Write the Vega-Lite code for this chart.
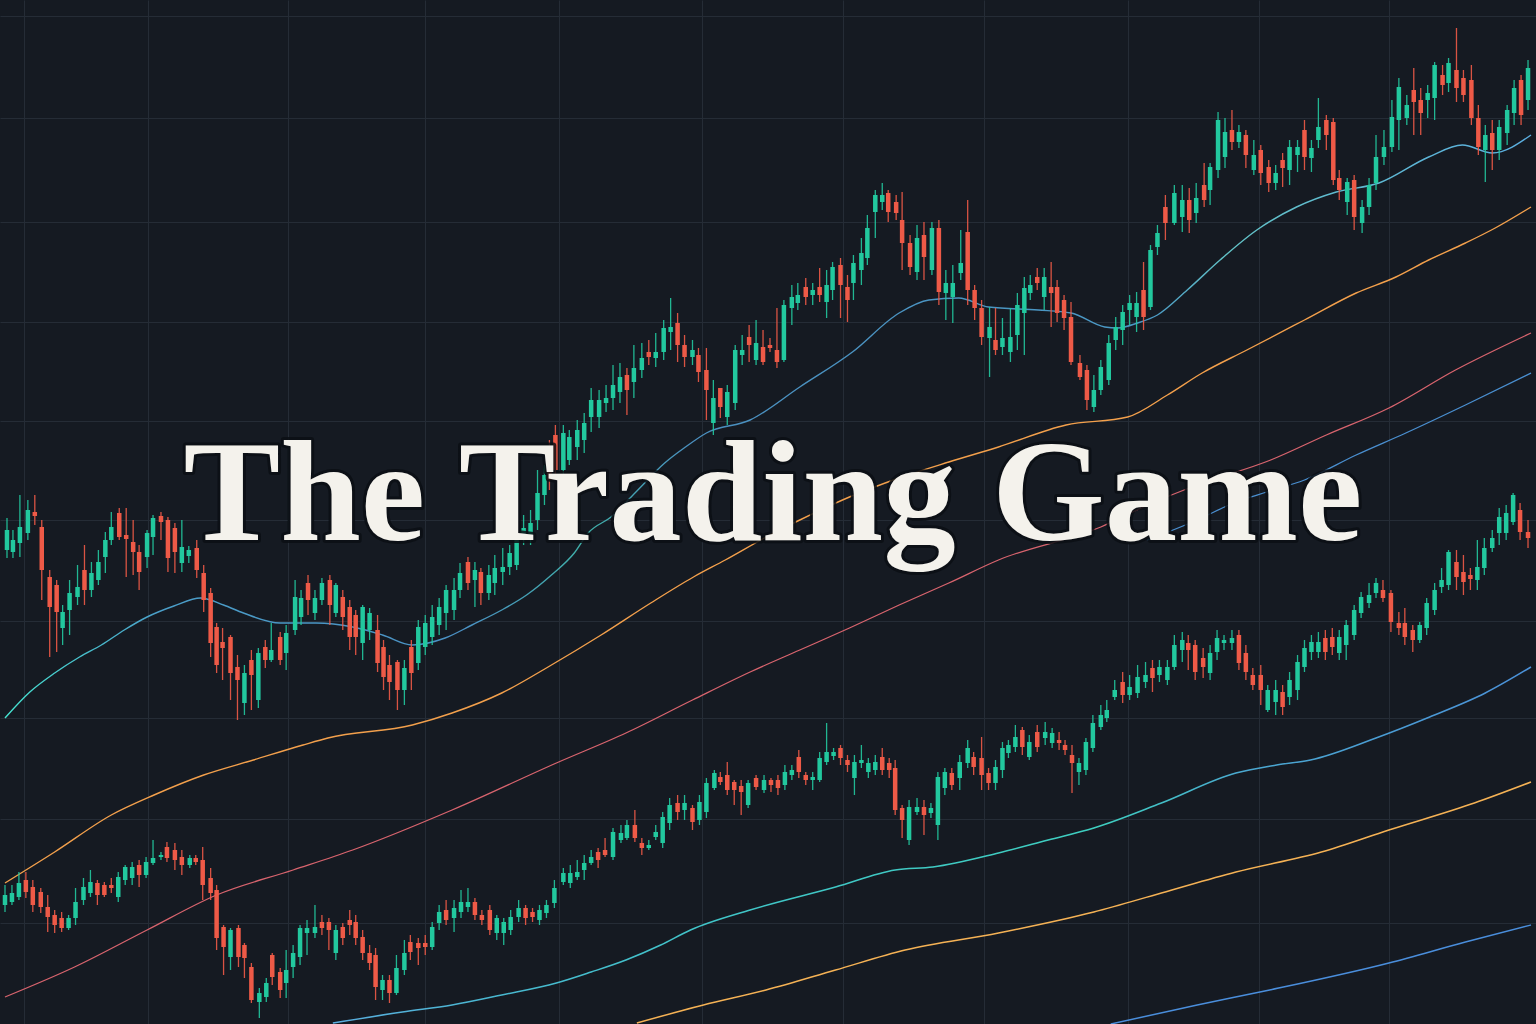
{
  "$schema": "https://vega.github.io/schema/vega-lite/v6.json",
  "description": "The Trading Game - candlestick backdrop with moving averages",
  "width": 1536,
  "height": 1024,
  "padding": 0,
  "autosize": {"type": "none"},
  "background": "#151a22",
  "config": {
    "view": {"stroke": null},
    "axis": {"labels": false, "ticks": false, "domain": false, "title": null, "gridColor": "#252c36", "gridWidth": 1}
  },
  "datasets": {
    "candles": [
      {"x":2,"o":550,"c":530,"h":518,"l":558},{"x":8,"o":552,"c":540,"h":530,"l":558},{"x":15,"o":543,"c":527,"h":495,"l":557},{"x":23,"o":533,"c":510,"h":500,"l":540},{"x":30,"o":512,"c":516,"h":495,"l":525},
      {"x":37,"o":527,"c":570,"h":520,"l":600},{"x":45,"o":577,"c":607,"h":570,"l":657},{"x":52,"o":585,"c":612,"h":580,"l":652},{"x":58,"o":628,"c":612,"h":605,"l":645},{"x":65,"o":610,"c":593,"h":580,"l":635},
      {"x":73,"o":597,"c":587,"h":565,"l":605},{"x":80,"o":570,"c":590,"h":545,"l":605},{"x":87,"o":590,"c":573,"h":562,"l":597},{"x":94,"o":580,"c":562,"h":550,"l":585},{"x":101,"o":557,"c":540,"h":532,"l":573},
      {"x":107,"o":540,"c":527,"h":512,"l":545},{"x":115,"o":513,"c":537,"h":508,"l":540},{"x":122,"o":535,"c":539,"h":508,"l":577},{"x":129,"o":542,"c":552,"h":520,"l":575},{"x":135,"o":552,"c":572,"h":545,"l":590},
      {"x":143,"o":557,"c":533,"h":530,"l":568},{"x":149,"o":537,"c":518,"h":515,"l":555},{"x":157,"o":516,"c":522,"h":512,"l":540},{"x":164,"o":520,"c":558,"h":517,"l":572},{"x":171,"o":528,"c":552,"h":523,"l":573},
      {"x":178,"o":563,"c":547,"h":520,"l":572},{"x":185,"o":556,"c":550,"h":546,"l":563},{"x":193,"o":548,"c":570,"h":540,"l":578},{"x":200,"o":573,"c":600,"h":565,"l":612},{"x":207,"o":593,"c":643,"h":588,"l":657},
      {"x":213,"o":627,"c":665,"h":623,"l":673},{"x":219,"o":642,"c":648,"h":628,"l":680},{"x":227,"o":637,"c":673,"h":635,"l":700},{"x":234,"o":667,"c":680,"h":655,"l":720},{"x":241,"o":703,"c":673,"h":665,"l":715},
      {"x":248,"o":660,"c":675,"h":650,"l":710},{"x":255,"o":700,"c":653,"h":648,"l":708},{"x":262,"o":647,"c":660,"h":640,"l":668},{"x":268,"o":660,"c":650,"h":623,"l":662},{"x":277,"o":637,"c":660,"h":632,"l":665},
      {"x":283,"o":653,"c":633,"h":625,"l":670},{"x":292,"o":630,"c":597,"h":580,"l":635},{"x":298,"o":617,"c":598,"h":590,"l":625},{"x":305,"o":583,"c":600,"h":575,"l":615},{"x":312,"o":613,"c":598,"h":590,"l":620},
      {"x":319,"o":600,"c":583,"h":578,"l":605},{"x":327,"o":580,"c":605,"h":575,"l":625},{"x":333,"o":613,"c":585,"h":583,"l":617},{"x":340,"o":597,"c":617,"h":590,"l":630},{"x":347,"o":607,"c":637,"h":600,"l":650},
      {"x":353,"o":615,"c":637,"h":610,"l":655},{"x":360,"o":643,"c":607,"h":605,"l":660},{"x":367,"o":630,"c":613,"h":608,"l":640},{"x":375,"o":630,"c":663,"h":615,"l":672},{"x":381,"o":647,"c":677,"h":640,"l":690},
      {"x":387,"o":665,"c":682,"h":655,"l":700},{"x":395,"o":662,"c":690,"h":660,"l":710},{"x":402,"o":690,"c":668,"h":660,"l":705},{"x":409,"o":647,"c":673,"h":640,"l":690},{"x":416,"o":663,"c":627,"h":620,"l":670},
      {"x":423,"o":647,"c":623,"h":615,"l":655},{"x":430,"o":637,"c":617,"h":605,"l":645},{"x":437,"o":625,"c":607,"h":598,"l":635},{"x":444,"o":613,"c":590,"h":585,"l":630},{"x":452,"o":610,"c":590,"h":578,"l":620},
      {"x":458,"o":590,"c":573,"h":563,"l":598},{"x":466,"o":562,"c":583,"h":557,"l":590},{"x":473,"o":580,"c":570,"h":562,"l":607},{"x":479,"o":572,"c":593,"h":568,"l":605},{"x":487,"o":593,"c":575,"h":565,"l":600},
      {"x":493,"o":583,"c":568,"h":555,"l":595},{"x":501,"o":572,"c":567,"h":548,"l":585},{"x":508,"o":567,"c":553,"h":545,"l":575},{"x":515,"o":565,"c":540,"h":530,"l":570},{"x":522,"o":537,"c":528,"h":515,"l":545},
      {"x":529,"o":540,"c":523,"h":510,"l":545},{"x":536,"o":520,"c":493,"h":470,"l":530},{"x":543,"o":495,"c":475,"h":465,"l":505},{"x":548,"o":470,"c":480,"h":440,"l":490},{"x":554,"o":435,"c":470,"h":425,"l":475},
      {"x":562,"o":470,"c":433,"h":425,"l":478},{"x":568,"o":460,"c":437,"h":430,"l":465},{"x":576,"o":447,"c":430,"h":420,"l":460},{"x":583,"o":440,"c":423,"h":413,"l":453},{"x":590,"o":417,"c":400,"h":388,"l":432},
      {"x":598,"o":417,"c":400,"h":390,"l":428},{"x":605,"o":403,"c":398,"h":385,"l":412},{"x":612,"o":398,"c":385,"h":365,"l":410},{"x":619,"o":392,"c":377,"h":363,"l":403},{"x":626,"o":375,"c":390,"h":368,"l":415},
      {"x":633,"o":382,"c":368,"h":345,"l":398},{"x":641,"o":370,"c":358,"h":343,"l":378},{"x":648,"o":352,"c":357,"h":340,"l":365},{"x":655,"o":358,"c":352,"h":333,"l":367},{"x":663,"o":352,"c":328,"h":320,"l":360},
      {"x":670,"o":332,"c":327,"h":298,"l":350},{"x":677,"o":323,"c":345,"h":313,"l":362},{"x":684,"o":345,"c":357,"h":335,"l":367},{"x":692,"o":357,"c":350,"h":340,"l":365},{"x":698,"o":355,"c":372,"h":348,"l":382},
      {"x":706,"o":370,"c":390,"h":348,"l":420},{"x":713,"o":423,"c":398,"h":380,"l":435},{"x":720,"o":388,"c":407,"h":388,"l":418},{"x":727,"o":417,"c":392,"h":385,"l":425},{"x":735,"o":403,"c":350,"h":345,"l":410},
      {"x":742,"o":355,"c":350,"h":335,"l":365},{"x":749,"o":337,"c":345,"h":325,"l":362},{"x":756,"o":360,"c":343,"h":320,"l":365},{"x":763,"o":347,"c":362,"h":330,"l":365},{"x":770,"o":345,"c":348,"h":338,"l":352},
      {"x":777,"o":350,"c":362,"h":308,"l":368},{"x":784,"o":360,"c":305,"h":300,"l":362},{"x":792,"o":308,"c":297,"h":285,"l":325},{"x":798,"o":303,"c":295,"h":283,"l":310},{"x":806,"o":287,"c":297,"h":278,"l":305},
      {"x":813,"o":295,"c":290,"h":283,"l":305},{"x":820,"o":287,"c":295,"h":268,"l":302},{"x":827,"o":302,"c":285,"h":270,"l":318},{"x":833,"o":290,"c":267,"h":262,"l":300},{"x":841,"o":265,"c":285,"h":258,"l":318},
      {"x":848,"o":287,"c":300,"h":275,"l":322},{"x":854,"o":283,"c":263,"h":255,"l":300},{"x":862,"o":270,"c":253,"h":238,"l":285},{"x":868,"o":258,"c":228,"h":215,"l":265},{"x":876,"o":212,"c":195,"h":190,"l":238},
      {"x":883,"o":202,"c":195,"h":183,"l":210},{"x":889,"o":193,"c":212,"h":190,"l":222},{"x":897,"o":202,"c":213,"h":195,"l":220},{"x":903,"o":220,"c":243,"h":192,"l":270},{"x":911,"o":243,"c":267,"h":235,"l":275},
      {"x":918,"o":272,"c":238,"h":225,"l":280},{"x":925,"o":235,"c":257,"h":222,"l":280},{"x":933,"o":270,"c":228,"h":222,"l":275},{"x":940,"o":228,"c":292,"h":220,"l":305},{"x":947,"o":293,"c":283,"h":270,"l":320},
      {"x":954,"o":297,"c":283,"h":265,"l":323},{"x":962,"o":273,"c":263,"h":230,"l":280},{"x":969,"o":232,"c":290,"h":200,"l":305},{"x":976,"o":290,"c":308,"h":285,"l":320},{"x":983,"o":308,"c":337,"h":300,"l":345},
      {"x":991,"o":338,"c":327,"h":307,"l":377},{"x":997,"o":340,"c":350,"h":308,"l":355},{"x":1004,"o":347,"c":338,"h":318,"l":355},{"x":1012,"o":352,"c":337,"h":308,"l":362},{"x":1019,"o":335,"c":305,"h":293,"l":350},
      {"x":1026,"o":313,"c":288,"h":277,"l":355},{"x":1032,"o":293,"c":285,"h":275,"l":300},{"x":1039,"o":277,"c":283,"h":268,"l":290},{"x":1046,"o":297,"c":277,"h":268,"l":310},{"x":1053,"o":287,"c":293,"h":262,"l":327},
      {"x":1059,"o":287,"c":313,"h":280,"l":322},{"x":1066,"o":300,"c":318,"h":295,"l":330},{"x":1073,"o":317,"c":362,"h":302,"l":365},{"x":1082,"o":363,"c":377,"h":355,"l":380},{"x":1089,"o":370,"c":400,"h":365,"l":410},
      {"x":1096,"o":407,"c":390,"h":375,"l":412},{"x":1103,"o":390,"c":367,"h":360,"l":395},{"x":1111,"o":380,"c":343,"h":335,"l":385},{"x":1118,"o":340,"c":327,"h":317,"l":350},{"x":1125,"o":330,"c":312,"h":305,"l":345},
      {"x":1132,"o":310,"c":303,"h":295,"l":325},{"x":1139,"o":317,"c":303,"h":292,"l":332},{"x":1146,"o":290,"c":317,"h":262,"l":330},{"x":1153,"o":307,"c":250,"h":245,"l":310},{"x":1160,"o":247,"c":233,"h":225,"l":255},
      {"x":1168,"o":207,"c":223,"h":195,"l":240},{"x":1177,"o":223,"c":193,"h":185,"l":225},{"x":1185,"o":217,"c":200,"h":185,"l":232},{"x":1192,"o":200,"c":220,"h":188,"l":233},{"x":1199,"o":213,"c":198,"h":183,"l":223},
      {"x":1207,"o":185,"c":200,"h":163,"l":207},{"x":1213,"o":190,"c":167,"h":163,"l":205},{"x":1221,"o":170,"c":120,"h":112,"l":178},{"x":1228,"o":157,"c":132,"h":118,"l":168},{"x":1235,"o":130,"c":142,"h":110,"l":150},
      {"x":1242,"o":142,"c":132,"h":125,"l":148},{"x":1249,"o":135,"c":155,"h":130,"l":168},{"x":1257,"o":170,"c":155,"h":140,"l":175},{"x":1264,"o":150,"c":173,"h":145,"l":185},{"x":1272,"o":167,"c":183,"h":160,"l":192},
      {"x":1279,"o":183,"c":173,"h":165,"l":190},{"x":1286,"o":160,"c":168,"h":153,"l":187},{"x":1293,"o":170,"c":147,"h":140,"l":185},{"x":1301,"o":155,"c":147,"h":140,"l":172},{"x":1308,"o":130,"c":157,"h":120,"l":170},
      {"x":1315,"o":158,"c":148,"h":140,"l":172},{"x":1322,"o":140,"c":127,"h":98,"l":148},{"x":1330,"o":120,"c":135,"h":115,"l":150},{"x":1337,"o":122,"c":180,"h":118,"l":185},{"x":1343,"o":178,"c":190,"h":170,"l":200},
      {"x":1351,"o":202,"c":182,"h":178,"l":215},{"x":1358,"o":180,"c":217,"h":175,"l":230},{"x":1366,"o":223,"c":207,"h":200,"l":233},{"x":1373,"o":207,"c":185,"h":178,"l":215},{"x":1380,"o":183,"c":157,"h":135,"l":190},
      {"x":1388,"o":157,"c":147,"h":130,"l":165},{"x":1396,"o":147,"c":117,"h":100,"l":152},{"x":1403,"o":120,"c":87,"h":78,"l":150},{"x":1411,"o":118,"c":105,"h":95,"l":125},{"x":1418,"o":90,"c":102,"h":68,"l":135},
      {"x":1425,"o":100,"c":113,"h":88,"l":135},{"x":1432,"o":100,"c":93,"h":85,"l":118},{"x":1439,"o":98,"c":65,"h":62,"l":120},{"x":1447,"o":75,"c":85,"h":65,"l":95},{"x":1453,"o":83,"c":63,"h":58,"l":92},
      {"x":1461,"o":70,"c":88,"h":28,"l":102},{"x":1468,"o":78,"c":95,"h":70,"l":102},{"x":1476,"o":80,"c":118,"h":65,"l":125},{"x":1483,"o":118,"c":147,"h":105,"l":155},{"x":1490,"o":150,"c":135,"h":125,"l":182},
      {"x":1497,"o":133,"c":150,"h":120,"l":170},{"x":1504,"o":150,"c":127,"h":120,"l":160},{"x":1512,"o":133,"c":110,"h":105,"l":145},{"x":1519,"o":113,"c":88,"h":80,"l":125},{"x":1526,"o":80,"c":115,"h":75,"l":125},
      {"x":1533,"o":100,"c":68,"h":60,"l":110},

      {"x":0,"o":905,"c":895,"h":885,"l":912},{"x":7,"o":902,"c":893,"h":885,"l":905},{"x":14,"o":897,"c":883,"h":872,"l":900},{"x":21,"o":880,"c":892,"h":872,"l":898},{"x":28,"o":887,"c":905,"h":880,"l":912},
      {"x":36,"o":892,"c":907,"h":888,"l":913},{"x":43,"o":907,"c":917,"h":895,"l":932},{"x":50,"o":915,"c":925,"h":910,"l":933},{"x":57,"o":918,"c":928,"h":912,"l":932},{"x":64,"o":928,"c":918,"h":915,"l":930},
      {"x":71,"o":918,"c":902,"h":888,"l":925},{"x":79,"o":900,"c":887,"h":878,"l":905},{"x":86,"o":893,"c":882,"h":870,"l":897},{"x":93,"o":883,"c":895,"h":880,"l":905},{"x":100,"o":885,"c":895,"h":882,"l":897},
      {"x":107,"o":885,"c":888,"h":878,"l":893},{"x":114,"o":897,"c":877,"h":872,"l":902},{"x":121,"o":880,"c":867,"h":865,"l":885},{"x":128,"o":878,"c":867,"h":862,"l":885},{"x":135,"o":865,"c":875,"h":860,"l":887},
      {"x":142,"o":875,"c":862,"h":857,"l":878},{"x":149,"o":863,"c":858,"h":840,"l":865},{"x":157,"o":857,"c":855,"h":852,"l":860},{"x":163,"o":847,"c":858,"h":842,"l":862},{"x":171,"o":850,"c":860,"h":843,"l":870},
      {"x":178,"o":857,"c":865,"h":850,"l":875},{"x":186,"o":865,"c":858,"h":855,"l":868},{"x":192,"o":858,"c":862,"h":855,"l":865},{"x":199,"o":860,"c":885,"h":847,"l":900},{"x":207,"o":878,"c":893,"h":868,"l":900},
      {"x":213,"o":890,"c":938,"h":885,"l":950},{"x":220,"o":927,"c":947,"h":925,"l":975},{"x":227,"o":957,"c":930,"h":928,"l":970},{"x":235,"o":928,"c":957,"h":925,"l":967},{"x":241,"o":945,"c":958,"h":943,"l":978},
      {"x":248,"o":967,"c":1000,"h":963,"l":1003},{"x":256,"o":1002,"c":993,"h":988,"l":1018},{"x":263,"o":997,"c":983,"h":978,"l":1002},{"x":269,"o":955,"c":977,"h":953,"l":985},{"x":277,"o":972,"c":990,"h":968,"l":998},
      {"x":283,"o":983,"c":970,"h":950,"l":998},{"x":290,"o":967,"c":953,"h":945,"l":978},{"x":297,"o":957,"c":928,"h":925,"l":965},{"x":304,"o":933,"c":928,"h":920,"l":955},{"x":312,"o":933,"c":927,"h":905,"l":938},
      {"x":319,"o":922,"c":928,"h":915,"l":935},{"x":326,"o":922,"c":930,"h":918,"l":950},{"x":333,"o":953,"c":930,"h":925,"l":960},{"x":340,"o":927,"c":938,"h":923,"l":945},{"x":347,"o":920,"c":925,"h":910,"l":935},
      {"x":353,"o":922,"c":938,"h":915,"l":945},{"x":360,"o":937,"c":953,"h":930,"l":960},{"x":367,"o":953,"c":963,"h":945,"l":970},{"x":373,"o":955,"c":987,"h":948,"l":1000},{"x":380,"o":990,"c":980,"h":975,"l":1000},
      {"x":387,"o":980,"c":993,"h":975,"l":1003},{"x":394,"o":993,"c":968,"h":955,"l":995},{"x":402,"o":970,"c":953,"h":940,"l":975},{"x":408,"o":942,"c":952,"h":935,"l":960},{"x":416,"o":943,"c":948,"h":938,"l":965},
      {"x":423,"o":943,"c":947,"h":935,"l":955},{"x":430,"o":947,"c":927,"h":922,"l":950},{"x":437,"o":923,"c":912,"h":905,"l":930},{"x":444,"o":910,"c":920,"h":900,"l":925},{"x":452,"o":918,"c":908,"h":900,"l":932},
      {"x":459,"o":912,"c":902,"h":890,"l":918},{"x":466,"o":907,"c":902,"h":888,"l":912},{"x":473,"o":902,"c":915,"h":898,"l":920},{"x":480,"o":915,"c":920,"h":910,"l":925},{"x":488,"o":910,"c":930,"h":905,"l":935},
      {"x":495,"o":933,"c":918,"h":915,"l":940},{"x":502,"o":933,"c":922,"h":918,"l":945},{"x":509,"o":930,"c":917,"h":910,"l":935},{"x":517,"o":917,"c":908,"h":900,"l":922},{"x":524,"o":908,"c":918,"h":905,"l":925},
      {"x":531,"o":912,"c":917,"h":908,"l":922},{"x":538,"o":920,"c":910,"h":905,"l":925},{"x":545,"o":913,"c":905,"h":900,"l":918},{"x":553,"o":903,"c":888,"h":880,"l":908},{"x":562,"o":882,"c":873,"h":868,"l":885},
      {"x":569,"o":883,"c":873,"h":865,"l":888},{"x":576,"o":877,"c":872,"h":860,"l":880},{"x":583,"o":870,"c":863,"h":855,"l":880},{"x":590,"o":863,"c":857,"h":850,"l":865},{"x":597,"o":852,"c":860,"h":848,"l":868},
      {"x":604,"o":850,"c":855,"h":838,"l":857},{"x":612,"o":857,"c":832,"h":828,"l":860},{"x":620,"o":840,"c":833,"h":825,"l":843},{"x":626,"o":838,"c":825,"h":820,"l":840},{"x":634,"o":825,"c":838,"h":810,"l":842},
      {"x":641,"o":843,"c":848,"h":838,"l":855},{"x":648,"o":848,"c":845,"h":840,"l":850},{"x":655,"o":837,"c":832,"h":825,"l":840},{"x":662,"o":843,"c":817,"h":812,"l":848},{"x":669,"o":823,"c":805,"h":798,"l":830},
      {"x":677,"o":803,"c":812,"h":795,"l":820},{"x":684,"o":810,"c":803,"h":795,"l":820},{"x":692,"o":808,"c":822,"h":805,"l":830},{"x":699,"o":820,"c":802,"h":795,"l":825},{"x":706,"o":812,"c":783,"h":778,"l":818},
      {"x":714,"o":788,"c":773,"h":770,"l":790},{"x":720,"o":777,"c":782,"h":772,"l":785},{"x":727,"o":775,"c":790,"h":762,"l":795},{"x":734,"o":782,"c":790,"h":780,"l":805},{"x":741,"o":786,"c":792,"h":780,"l":815},
      {"x":748,"o":805,"c":783,"h":780,"l":808},{"x":756,"o":778,"c":787,"h":775,"l":790},{"x":764,"o":790,"c":780,"h":775,"l":793},{"x":771,"o":780,"c":785,"h":778,"l":792},{"x":778,"o":780,"c":788,"h":775,"l":795},
      {"x":785,"o":785,"c":772,"h":765,"l":790},{"x":792,"o":775,"c":770,"h":765,"l":780},{"x":799,"o":757,"c":772,"h":750,"l":778},{"x":806,"o":775,"c":780,"h":772,"l":785},{"x":813,"o":780,"c":777,"h":772,"l":790},
      {"x":820,"o":780,"c":758,"h":752,"l":782},{"x":827,"o":762,"c":752,"h":723,"l":765},{"x":834,"o":756,"c":752,"h":748,"l":760},{"x":841,"o":748,"c":758,"h":745,"l":765},{"x":848,"o":760,"c":765,"h":755,"l":772},
      {"x":855,"o":778,"c":762,"h":755,"l":795},{"x":862,"o":763,"c":760,"h":745,"l":768},{"x":869,"o":772,"c":763,"h":758,"l":778},{"x":876,"o":770,"c":762,"h":755,"l":775},{"x":883,"o":757,"c":770,"h":748,"l":775},
      {"x":890,"o":763,"c":770,"h":758,"l":778},{"x":896,"o":768,"c":810,"h":760,"l":815},{"x":903,"o":808,"c":820,"h":805,"l":838},{"x":910,"o":840,"c":807,"h":800,"l":845},{"x":918,"o":812,"c":807,"h":798,"l":815},
      {"x":925,"o":807,"c":815,"h":800,"l":835},{"x":932,"o":813,"c":808,"h":803,"l":818},{"x":939,"o":825,"c":777,"h":772,"l":840},{"x":946,"o":788,"c":772,"h":768,"l":795},{"x":953,"o":773,"c":785,"h":768,"l":790},
      {"x":961,"o":778,"c":762,"h":755,"l":790},{"x":969,"o":763,"c":748,"h":740,"l":768},{"x":975,"o":757,"c":767,"h":752,"l":775},{"x":983,"o":758,"c":775,"h":737,"l":790},{"x":990,"o":773,"c":783,"h":768,"l":790},
      {"x":997,"o":783,"c":767,"h":760,"l":790},{"x":1004,"o":770,"c":748,"h":742,"l":778},{"x":1010,"o":753,"c":745,"h":740,"l":758},{"x":1017,"o":747,"c":737,"h":725,"l":752},{"x":1024,"o":730,"c":747,"h":727,"l":755},
      {"x":1031,"o":757,"c":742,"h":735,"l":760},{"x":1039,"o":732,"c":747,"h":725,"l":752},{"x":1047,"o":738,"c":732,"h":722,"l":745},{"x":1054,"o":743,"c":733,"h":728,"l":748},{"x":1061,"o":740,"c":743,"h":732,"l":750},
      {"x":1067,"o":745,"c":750,"h":740,"l":755},{"x":1074,"o":755,"c":763,"h":745,"l":793},{"x":1081,"o":772,"c":763,"h":758,"l":785},{"x":1088,"o":770,"c":742,"h":738,"l":775},{"x":1095,"o":748,"c":723,"h":715,"l":752},
      {"x":1103,"o":727,"c":715,"h":705,"l":730},{"x":1109,"o":718,"c":710,"h":700,"l":722},{"x":1117,"o":697,"c":690,"h":680,"l":700},{"x":1125,"o":682,"c":695,"h":672,"l":703},{"x":1132,"o":695,"c":687,"h":675,"l":700},
      {"x":1140,"o":693,"c":677,"h":665,"l":698},{"x":1148,"o":682,"c":675,"h":662,"l":688},{"x":1155,"o":668,"c":678,"h":660,"l":692},{"x":1162,"o":675,"c":667,"h":660,"l":682},{"x":1170,"o":680,"c":667,"h":660,"l":685},
      {"x":1177,"o":667,"c":645,"h":635,"l":670},{"x":1185,"o":650,"c":640,"h":632,"l":662},{"x":1191,"o":643,"c":650,"h":635,"l":670},{"x":1198,"o":645,"c":672,"h":640,"l":680},{"x":1206,"o":658,"c":667,"h":648,"l":678},
      {"x":1213,"o":673,"c":653,"h":645,"l":680},{"x":1220,"o":652,"c":638,"h":630,"l":660},{"x":1227,"o":643,"c":640,"h":635,"l":650},{"x":1235,"o":643,"c":638,"h":630,"l":650},{"x":1242,"o":635,"c":663,"h":630,"l":670},
      {"x":1249,"o":653,"c":672,"h":645,"l":680},{"x":1256,"o":675,"c":685,"h":668,"l":690},{"x":1264,"o":675,"c":690,"h":665,"l":705},{"x":1271,"o":710,"c":690,"h":685,"l":712},{"x":1279,"o":702,"c":690,"h":680,"l":715},
      {"x":1286,"o":692,"c":707,"h":685,"l":715},{"x":1293,"o":697,"c":680,"h":672,"l":705},{"x":1301,"o":690,"c":662,"h":655,"l":700},{"x":1308,"o":667,"c":648,"h":640,"l":672},{"x":1315,"o":652,"c":642,"h":635,"l":660},
      {"x":1322,"o":652,"c":642,"h":632,"l":658},{"x":1329,"o":638,"c":652,"h":630,"l":660},{"x":1336,"o":637,"c":647,"h":628,"l":655},{"x":1343,"o":653,"c":637,"h":630,"l":660},{"x":1350,"o":645,"c":625,"h":620,"l":660},
      {"x":1358,"o":635,"c":610,"h":605,"l":640},{"x":1365,"o":613,"c":597,"h":592,"l":618},{"x":1373,"o":603,"c":595,"h":583,"l":608},{"x":1380,"o":593,"c":583,"h":578,"l":598},{"x":1387,"o":590,"c":598,"h":580,"l":602},
      {"x":1395,"o":593,"c":622,"h":590,"l":632},{"x":1403,"o":623,"c":628,"h":612,"l":635},{"x":1409,"o":623,"c":637,"h":608,"l":645},{"x":1417,"o":630,"c":640,"h":625,"l":652},{"x":1424,"o":640,"c":625,"h":622,"l":643},
      {"x":1431,"o":628,"c":603,"h":598,"l":635},{"x":1439,"o":610,"c":590,"h":583,"l":615},{"x":1446,"o":587,"c":580,"h":568,"l":593},{"x":1453,"o":585,"c":552,"h":550,"l":590},{"x":1461,"o":562,"c":577,"h":550,"l":590},
      {"x":1468,"o":572,"c":582,"h":555,"l":595},{"x":1475,"o":575,"c":579,"h":568,"l":590},{"x":1482,"o":580,"c":567,"h":540,"l":590},{"x":1489,"o":568,"c":548,"h":538,"l":575},{"x":1497,"o":548,"c":538,"h":530,"l":552},
      {"x":1504,"o":533,"c":517,"h":508,"l":545},{"x":1511,"o":533,"c":513,"h":505,"l":540},{"x":1518,"o":522,"c":495,"h":493,"l":525},{"x":1525,"o":510,"c":532,"h":503,"l":540},{"x":1533,"o":532,"c":538,"h":520,"l":548}
    ],
    "ma": [
      {"s":"ma1","x":0,"y":718},{"s":"ma1","x":25,"y":692},{"s":"ma1","x":50,"y":673},{"s":"ma1","x":75,"y":657},{"s":"ma1","x":97,"y":645},{"s":"ma1","x":120,"y":630},{"s":"ma1","x":143,"y":617},{"s":"ma1","x":170,"y":606},{"s":"ma1","x":197,"y":598},{"s":"ma1","x":220,"y":605},{"s":"ma1","x":240,"y":613},{"s":"ma1","x":277,"y":623},{"s":"ma1","x":313,"y":623},{"s":"ma1","x":350,"y":627},{"s":"ma1","x":380,"y":635},{"s":"ma1","x":410,"y":645},{"s":"ma1","x":443,"y":638},{"s":"ma1","x":470,"y":625},{"s":"ma1","x":500,"y":610},{"s":"ma1","x":525,"y":595},{"s":"ma1","x":550,"y":575},{"s":"ma1","x":573,"y":553},{"s":"ma1","x":587,"y":533},{"s":"ma1","x":610,"y":517},{"s":"ma1","x":637,"y":490},{"s":"ma1","x":664,"y":463},{"s":"ma1","x":685,"y":447},{"s":"ma1","x":706,"y":433},{"s":"ma1","x":750,"y":420},{"s":"ma1","x":800,"y":387},{"s":"ma1","x":853,"y":352},{"s":"ma1","x":900,"y":313},{"s":"ma1","x":930,"y":300},{"s":"ma1","x":960,"y":298},{"s":"ma1","x":990,"y":307},{"s":"ma1","x":1040,"y":310},{"s":"ma1","x":1073,"y":313},{"s":"ma1","x":1107,"y":327},{"s":"ma1","x":1120,"y":328},{"s":"ma1","x":1140,"y":323},{"s":"ma1","x":1160,"y":315},{"s":"ma1","x":1190,"y":290},{"s":"ma1","x":1223,"y":260},{"s":"ma1","x":1260,"y":230},{"s":"ma1","x":1300,"y":207},{"s":"ma1","x":1340,"y":192},{"s":"ma1","x":1383,"y":183},{"s":"ma1","x":1433,"y":157},{"s":"ma1","x":1467,"y":145},{"s":"ma1","x":1497,"y":153},{"s":"ma1","x":1536,"y":135},
      {"s":"ma2","x":0,"y":883},{"s":"ma2","x":50,"y":852},{"s":"ma2","x":107,"y":815},{"s":"ma2","x":150,"y":795},{"s":"ma2","x":200,"y":775},{"s":"ma2","x":250,"y":760},{"s":"ma2","x":300,"y":745},{"s":"ma2","x":325,"y":738},{"s":"ma2","x":410,"y":725},{"s":"ma2","x":450,"y":713},{"s":"ma2","x":500,"y":693},{"s":"ma2","x":550,"y":665},{"s":"ma2","x":600,"y":635},{"s":"ma2","x":650,"y":603},{"s":"ma2","x":693,"y":577},{"s":"ma2","x":725,"y":560},{"s":"ma2","x":770,"y":535},{"s":"ma2","x":800,"y":520},{"s":"ma2","x":850,"y":497},{"s":"ma2","x":900,"y":478},{"s":"ma2","x":950,"y":462},{"s":"ma2","x":1000,"y":447},{"s":"ma2","x":1068,"y":425},{"s":"ma2","x":1130,"y":417},{"s":"ma2","x":1170,"y":395},{"s":"ma2","x":1205,"y":373},{"s":"ma2","x":1250,"y":350},{"s":"ma2","x":1308,"y":320},{"s":"ma2","x":1360,"y":293},{"s":"ma2","x":1400,"y":277},{"s":"ma2","x":1433,"y":260},{"s":"ma2","x":1470,"y":243},{"s":"ma2","x":1500,"y":228},{"s":"ma2","x":1536,"y":207},
      {"s":"ma3","x":0,"y":997},{"s":"ma3","x":70,"y":967},{"s":"ma3","x":143,"y":930},{"s":"ma3","x":213,"y":895},{"s":"ma3","x":290,"y":870},{"s":"ma3","x":350,"y":850},{"s":"ma3","x":450,"y":810},{"s":"ma3","x":555,"y":763},{"s":"ma3","x":625,"y":733},{"s":"ma3","x":692,"y":700},{"s":"ma3","x":750,"y":672},{"s":"ma3","x":800,"y":650},{"s":"ma3","x":850,"y":628},{"s":"ma3","x":900,"y":605},{"s":"ma3","x":950,"y":583},{"s":"ma3","x":1000,"y":560},{"s":"ma3","x":1103,"y":527},{"s":"ma3","x":1150,"y":505},{"s":"ma3","x":1200,"y":485},{"s":"ma3","x":1274,"y":460},{"s":"ma3","x":1330,"y":435},{"s":"ma3","x":1393,"y":408},{"s":"ma3","x":1460,"y":370},{"s":"ma3","x":1536,"y":333},
      {"s":"ma4","x":1150,"y":540},{"s":"ma4","x":1200,"y":520},{"s":"ma4","x":1239,"y":502},{"s":"ma4","x":1270,"y":492},{"s":"ma4","x":1308,"y":480},{"s":"ma4","x":1360,"y":455},{"s":"ma4","x":1410,"y":433},{"s":"ma4","x":1470,"y":405},{"s":"ma4","x":1536,"y":373},
      {"s":"ma5","x":330,"y":1023},{"s":"ma5","x":400,"y":1012},{"s":"ma5","x":450,"y":1005},{"s":"ma5","x":500,"y":995},{"s":"ma5","x":555,"y":983},{"s":"ma5","x":590,"y":972},{"s":"ma5","x":625,"y":960},{"s":"ma5","x":660,"y":945},{"s":"ma5","x":690,"y":930},{"s":"ma5","x":750,"y":910},{"s":"ma5","x":836,"y":887},{"s":"ma5","x":896,"y":870},{"s":"ma5","x":934,"y":867},{"s":"ma5","x":1000,"y":853},{"s":"ma5","x":1050,"y":840},{"s":"ma5","x":1096,"y":828},{"s":"ma5","x":1164,"y":803},{"s":"ma5","x":1239,"y":773},{"s":"ma5","x":1280,"y":765},{"s":"ma5","x":1314,"y":760},{"s":"ma5","x":1380,"y":738},{"s":"ma5","x":1434,"y":717},{"s":"ma5","x":1490,"y":693},{"s":"ma5","x":1536,"y":667},
      {"s":"ma6","x":636,"y":1023},{"s":"ma6","x":703,"y":1005},{"s":"ma6","x":766,"y":990},{"s":"ma6","x":836,"y":970},{"s":"ma6","x":906,"y":950},{"s":"ma6","x":1000,"y":933},{"s":"ma6","x":1096,"y":912},{"s":"ma6","x":1164,"y":893},{"s":"ma6","x":1239,"y":872},{"s":"ma6","x":1325,"y":852},{"s":"ma6","x":1393,"y":830},{"s":"ma6","x":1479,"y":803},{"s":"ma6","x":1536,"y":782},
      {"s":"ma7","x":1113,"y":1024},{"s":"ma7","x":1200,"y":1005},{"s":"ma7","x":1273,"y":990},{"s":"ma7","x":1393,"y":963},{"s":"ma7","x":1470,"y":942},{"s":"ma7","x":1536,"y":925}
    ],
    "title": [{"label": "The Trading Game"}]
  },
  "encoding": {
    "x": {"type": "quantitative", "scale": {"domain": [0, 1536], "nice": false, "zero": false}, "axis": {"grid": true, "values": [19, 144, 285, 423, 558, 702, 843, 985, 1130, 1262, 1393]}},
    "y": {"type": "quantitative", "scale": {"domain": [1024, 0], "nice": false, "zero": false}, "axis": {"grid": true, "values": [16, 118, 222, 322, 421, 520, 621, 718, 819, 923]}}
  },
  "layer": [
    {
      "data": {"name": "ma"},
      "transform": [{"filter": "datum.s === 'ma1'"}],
      "mark": {"type": "line", "interpolate": "monotone", "strokeWidth": 1.4,
        "stroke": {"gradient": "linear", "stops": [
          {"offset": 0, "color": "#45e3d0"}, {"offset": 0.1, "color": "#4a9ec8"}, {"offset": 0.3, "color": "#4a8fc2"},
          {"offset": 0.38, "color": "#3fb0a8"}, {"offset": 0.45, "color": "#4a8fbf"}, {"offset": 0.75, "color": "#4a98c4"},
          {"offset": 0.8, "color": "#62c2c6"}, {"offset": 1, "color": "#5aaee0"}]}},
      "encoding": {"x": {"field": "x"}, "y": {"field": "y"}}
    },
    {
      "data": {"name": "ma"},
      "transform": [{"filter": "datum.s === 'ma2'"}],
      "mark": {"type": "line", "interpolate": "monotone", "strokeWidth": 1.4, "stroke": "#f3a04c"},
      "encoding": {"x": {"field": "x"}, "y": {"field": "y"}}
    },
    {
      "data": {"name": "ma"},
      "transform": [{"filter": "datum.s === 'ma3'"}],
      "mark": {"type": "line", "interpolate": "monotone", "strokeWidth": 1.3, "stroke": "#d8646e"},
      "encoding": {"x": {"field": "x"}, "y": {"field": "y"}}
    },
    {
      "data": {"name": "ma"},
      "transform": [{"filter": "datum.s === 'ma4'"}],
      "mark": {"type": "line", "interpolate": "monotone", "strokeWidth": 1.3, "stroke": "#4a8fd0"},
      "encoding": {"x": {"field": "x"}, "y": {"field": "y"}}
    },
    {
      "data": {"name": "ma"},
      "transform": [{"filter": "datum.s === 'ma5'"}],
      "mark": {"type": "line", "interpolate": "monotone", "strokeWidth": 1.5,
        "stroke": {"gradient": "linear", "stops": [
          {"offset": 0, "color": "#5aaee0"}, {"offset": 0.14, "color": "#48b8d0"}, {"offset": 0.31, "color": "#40c4c8"},
          {"offset": 0.64, "color": "#3ecfc0"}, {"offset": 0.76, "color": "#4aa8d0"}, {"offset": 1, "color": "#4a90d8"}]}},
      "encoding": {"x": {"field": "x"}, "y": {"field": "y"}}
    },
    {
      "data": {"name": "ma"},
      "transform": [{"filter": "datum.s === 'ma6'"}],
      "mark": {"type": "line", "interpolate": "monotone", "strokeWidth": 1.5, "stroke": "#f5b255"},
      "encoding": {"x": {"field": "x"}, "y": {"field": "y"}}
    },
    {
      "data": {"name": "ma"},
      "transform": [{"filter": "datum.s === 'ma7'"}],
      "mark": {"type": "line", "interpolate": "monotone", "strokeWidth": 1.5, "stroke": "#4a8edc"},
      "encoding": {"x": {"field": "x"}, "y": {"field": "y"}}
    },
    {
      "data": {"name": "candles"},
      "mark": {"type": "rule", "strokeWidth": 1.3, "opacity": 0.9},
      "encoding": {
        "x": {"field": "x"},
        "y": {"field": "h"},
        "y2": {"field": "l"},
        "color": {"condition": {"test": "datum.c < datum.o", "value": "#22c89e"}, "value": "#ee5a47"}
      }
    },
    {
      "data": {"name": "candles"},
      "mark": {"type": "bar", "width": 4.5, "orient": "vertical"},
      "encoding": {
        "x": {"field": "x"},
        "y": {"field": "o"},
        "y2": {"field": "c"},
        "color": {"condition": {"test": "datum.c < datum.o", "value": "#22c89e"}, "value": "#ee5a47"}
      }
    },
    {
      "data": {"name": "title"},
      "mark": {"type": "text", "font": "Liberation Serif", "fontWeight": "bold", "fontSize": 145, "align": "center", "baseline": "alphabetic", "fill": "#0b0f14", "stroke": "#0b0f14", "strokeWidth": 6, "strokeJoin": "round", "opacity": 0.85},
      "encoding": {"x": {"datum": 773}, "y": {"datum": 540}, "text": {"field": "label"}}
    },
    {
      "data": {"name": "title"},
      "mark": {"type": "text", "font": "Liberation Serif", "fontWeight": "bold", "fontSize": 145, "align": "center", "baseline": "alphabetic", "fill": "#f4f2ec"},
      "encoding": {"x": {"datum": 773}, "y": {"datum": 540}, "text": {"field": "label"}}
    }
  ]
}
